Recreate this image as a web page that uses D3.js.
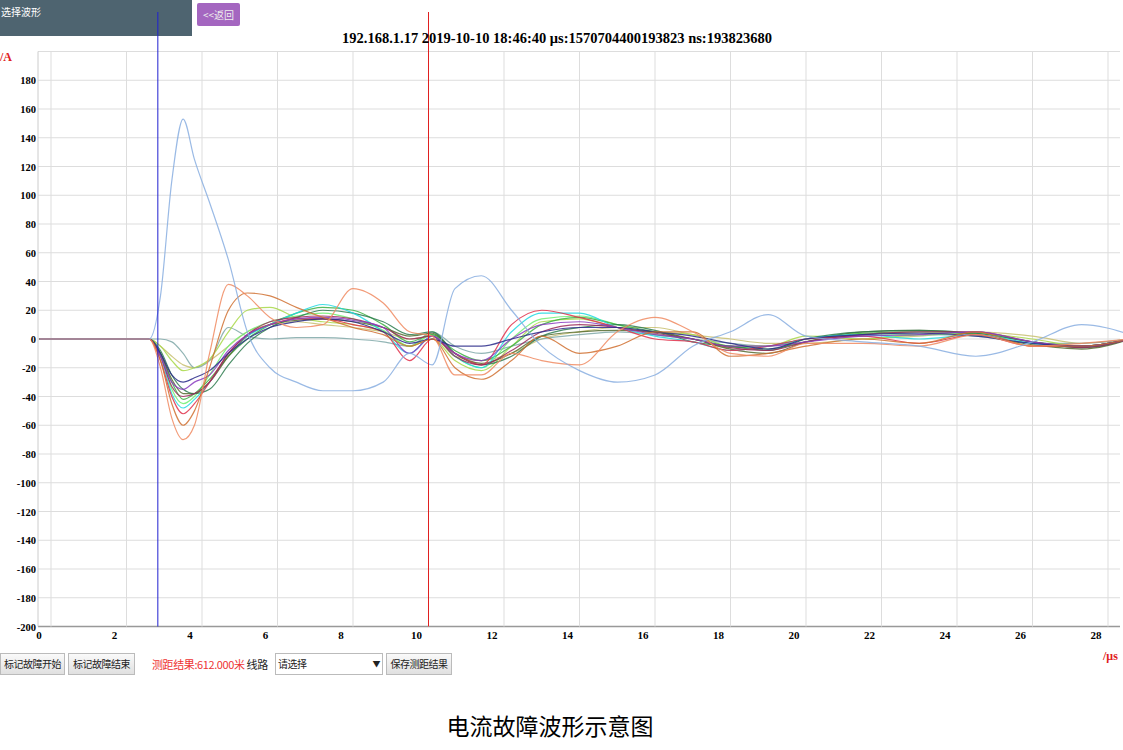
<!DOCTYPE html>
<html><head><meta charset="utf-8">
<script src="https://cdn.jsdelivr.net/npm/d3@7"></script>
<style>
body{margin:0;background:#fff;width:1123px;height:750px;overflow:hidden;font-family:"Liberation Serif",serif}
.btn{position:absolute;top:653px;height:22px;border:1px solid #bbb;background:linear-gradient(#fafafa,#e0e0e0);font:10px "Noto Sans CJK SC";line-height:20px;padding:0 2px;color:#222;box-sizing:border-box;white-space:nowrap;overflow:hidden;text-align:center;letter-spacing:-0.5px}
</style></head><body>
<div style="position:absolute;left:0;top:0;width:192px;height:36px;background:#4e6470;color:#fff;font:10px 'Noto Sans CJK SC';padding:4px 0 0 1px;box-sizing:border-box">选择波形</div>
<div style="position:absolute;left:197px;top:3px;width:43px;height:23px;background:#a466c0;color:#eee;font:10px 'Noto Sans CJK SC';line-height:23px;text-align:center;border-radius:2px">&lt;&lt;返回</div>
<div class="btn" style="left:0;width:65px">标记故障开始</div>
<div class="btn" style="left:68px;width:67px">标记故障结束</div>
<div style="position:absolute;left:152px;top:656px;font:11px 'Noto Sans CJK SC';color:#e33;white-space:nowrap;letter-spacing:-0.4px">测距结果:612.000米 <span style="color:#222">线路</span></div>
<div class="btn" style="left:275px;width:108px;background:#fff;text-align:left">请选择<span style="float:right;font-size:8px">▼</span></div>
<div class="btn" style="left:386px;width:66px">保存测距结果</div>
<svg id="c" width="1123" height="750" style="position:absolute;left:0;top:0"></svg>
<script>
const T=[-0.3,2.6,2.9,3.2,3.5,3.8,4.2,4.7,5.2,5.8,6.5,7.2,8,8.8,9.5,10.1,10.7,11.4,12.2,13,14,15,16,17,18,19,20,21.5,23,24.5,26,27.3,28.6];
const lightblue=[0,0,30,110,153,125,95,55,5,-20,-30,-36,-36,-30,-10,-18,35,44,20,-5,-22,-30,-25,-5,5,17,2,-2,-5,-12,-2,10,3];
const orange=[0,0,-20,-55,-70,-60,-10,38,30,15,8,10,35,25,5,2,-25,-25,-10,-15,-18,5,15,5,-10,-12,-3,-3,-5,3,-5,-3,0];
const brownOrange=[0,0,-15,-45,-60,-50,-20,20,32,30,22,15,8,3,-5,0,-20,-28,-15,2,-10,-5,5,5,-12,-10,-5,0,-3,5,-5,-5,0];
const red=[0,0,-15,-40,-52,-45,-30,-10,3,10,14,14,10,5,-15,0,-10,-18,10,20,15,8,0,-2,-8,-5,0,2,-3,3,-5,-5,0];
const cyan=[0,0,-12,-38,-48,-42,-30,-10,2,10,18,24,18,5,-10,2,-12,-20,5,18,18,8,2,-2,-8,-5,0,3,0,3,-3,-5,0];
const green=[0,0,-10,-30,-42,-38,-28,-12,0,10,18,22,20,10,-2,3,-8,-15,-5,10,15,10,5,0,-5,-7,-2,4,5,4,-2,-5,0];
const darkgreen=[0,0,-8,-25,-35,-38,-35,-18,-3,8,15,20,18,12,3,5,-10,-18,-12,2,8,10,6,-2,-5,-8,0,5,6,4,-2,-6,0];
const yellowgreen=[0,0,-5,-15,-22,-20,-14,5,20,22,15,12,10,5,-5,0,-15,-22,-5,12,14,8,5,3,-5,-5,2,0,3,4,0,-5,0];
const navy=[0,0,-10,-25,-30,-27,-22,-10,0,8,12,14,12,5,-3,0,-5,-5,0,5,8,8,5,2,-3,-7,0,3,4,2,-3,-5,0];
const purple=[0,0,-12,-30,-35,-30,-25,-8,3,10,14,15,13,8,-10,2,-10,-15,0,10,12,8,3,0,-5,-5,-2,2,3,5,-2,-5,0];
const khaki=[0,0,-5,-12,-18,-20,-15,-5,5,10,12,10,8,5,0,2,-12,-15,-10,0,5,8,8,3,0,-3,-3,0,2,5,2,-3,0];
const slate=[0,0,0,-2,-10,-20,-15,8,2,0,1,1,0,-2,-5,5,-5,-10,-5,0,3,5,3,0,-3,-5,0,2,3,2,-3,-3,0];
const darkolive=[0,0,-10,-28,-38,-38,-30,-12,2,10,13,14,12,8,2,4,-10,-17,-10,2,5,6,5,0,-7,-10,-2,5,6,3,-4,-7,0];
const darkred=[0,0,-12,-33,-40,-38,-30,-10,3,12,15,16,14,8,0,2,-12,-18,-8,5,10,8,4,0,-6,-8,-2,3,5,5,-2,-6,0];
const lightgreen=[0,0,-10,-35,-45,-40,-25,-5,5,12,16,18,14,6,-5,3,-12,-20,0,14,16,10,3,0,-6,-5,0,4,3,4,-2,-6,0];
const seriesNames=["khaki","slate","yellowgreen","lightgreen","green","darkolive","darkgreen","cyan","red","darkred","purple","navy","brownOrange","orange","lightblue"];
const seriesVals=[khaki,slate,yellowgreen,lightgreen,green,darkolive,darkgreen,cyan,red,darkred,purple,navy,brownOrange,orange,lightblue];
const colors=["#c8c070","#7fa8a8","#a8d848","#70ee70","#3cb043","#556b2f","#2e7d4f","#20d8e0","#e0304a","#9b2a5a","#8a3cc0","#2a2a8a","#d07030","#f08a60","#88aee0"];
const yTicks=d3.range(-200,181,20);
const xTicks=d3.range(0,29,2);
const markers=[2.83,10.0];
const title="192.168.1.17 2019-10-10 18:46:40 μs:1570704400193823 ns:193823680";

const svg=d3.select("#c");
const x=d3.scaleLinear().domain([0,28]).range([51,1108]);
const y=d3.scaleLinear().domain([-200,200]).range([626.5,51.5]);
const L=38,R=1120;
const g=svg.append("g");
yTicks.forEach(v=>g.append("line").attr("x1",L).attr("x2",R).attr("y1",y(v)).attr("y2",y(v)).attr("stroke",v===-200?"#999":"#ddd").attr("stroke-width",v===-200?1.5:1));
g.append("line").attr("x1",L).attr("x2",R).attr("y1",y(200)).attr("y2",y(200)).attr("stroke","#ddd");
xTicks.forEach(v=>g.append("line").attr("x1",x(v)).attr("x2",x(v)).attr("y1",y(200)).attr("y2",y(-200)).attr("stroke","#ddd"));
g.append("line").attr("x1",L).attr("x2",L).attr("y1",y(200)).attr("y2",y(-200)).attr("stroke","#ccc");
yTicks.forEach(v=>g.append("text").attr("x",36).attr("y",y(v)+4).attr("text-anchor","end").attr("font-size",10.5).attr("font-weight","bold").attr("font-family","Liberation Serif").text(v));
xTicks.forEach(v=>g.append("text").attr("x",x(v)-12).attr("y",639).attr("text-anchor","middle").attr("font-size",11).attr("font-weight","bold").attr("font-family","Liberation Serif").text(v));
g.append("text").attr("x",0).attr("y",61).attr("fill","#e02020").attr("font-size",12).attr("font-weight","bold").text("/A");
g.append("text").attr("x",1103).attr("y",660).attr("fill","#e02020").attr("font-size",12).attr("font-weight","bold").text("/μs");
const line=d3.line().x((d,i)=>x(T[i])).y(d=>y(d)).curve(d3.curveMonotoneX);
seriesVals.forEach((s,i)=>g.append("path").attr("d",line(s)).attr("fill","none").attr("stroke",colors[i]).attr("stroke-width",1.2).attr("opacity",0.85));
g.append("line").attr("x1",x(markers[0])).attr("x2",x(markers[0])).attr("y1",12).attr("y2",y(-200)).attr("stroke","#2020d0");
g.append("line").attr("x1",x(markers[1])).attr("x2",x(markers[1])).attr("y1",12).attr("y2",y(-200)).attr("stroke","#e02020");
g.append("text").attr("x",557).attr("y",43).attr("text-anchor","middle").attr("font-size",14.5).attr("font-weight","bold").attr("font-family","Liberation Serif").text(title);
g.append("text").attr("x",550).attr("y",735).attr("text-anchor","middle").attr("font-size",23).attr("font-family","Noto Sans CJK SC").text("电流故障波形示意图");
</script></body></html>
